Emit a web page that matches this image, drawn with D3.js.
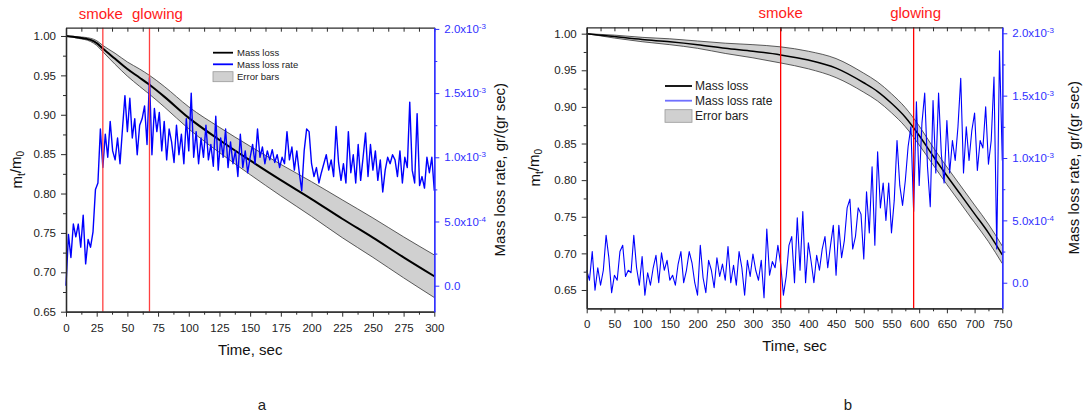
<!DOCTYPE html>
<html>
<head>
<meta charset="utf-8">
<script src="https://cdn.jsdelivr.net/npm/d3@7"></script>
<style>
  body { margin: 0; background: #fff; }
  svg { font-family: "Liberation Sans", Arial, sans-serif; }
</style>
</head>
<body>
<div id="chart"></div>
<script>
//////////////// Data ////////////////

// panel a: normalised mass m_t/m_0 with error (+/-)
const timeA = [0, 10, 20, 25, 30, 40, 50, 60, 68, 80, 100, 125, 150, 175, 200, 225, 250, 275, 300];
const massA = [1.000, 0.998, 0.995, 0.991, 0.984, 0.971, 0.958, 0.947, 0.938, 0.923, 0.896, 0.868, 0.842, 0.817, 0.793, 0.768, 0.744, 0.719, 0.695];
const errA = [0, 0.001, 0.002, 0.003, 0.004, 0.007, 0.009, 0.011, 0.012, 0.013, 0.014, 0.016, 0.018, 0.020, 0.022, 0.024, 0.025, 0.026, 0.027];

// panel a: mass loss rate (x10^-3 gr/(gr sec)), one reading every 2 sec
const rateStepA = 2;
const rateA = [
  0.00, 0.40, 0.22, 0.48, 0.38, 0.48, 0.30, 0.55, 0.17, 0.36, 0.30, 0.42, 0.75, 0.80, 1.22, 0.92,
  1.18, 1.00, 1.28, 1.05, 0.98, 1.15, 0.95, 1.22, 1.48, 1.20, 1.46, 1.15, 1.30, 1.02, 1.25, 1.30,
  1.40, 1.10, 1.62, 1.02, 1.38, 1.20, 1.35, 1.05, 1.28, 0.98, 1.22, 1.12, 0.96, 1.25, 1.02, 1.18,
  0.95, 1.30, 1.05, 1.50, 1.00, 1.20, 0.95, 1.15, 1.00, 1.25, 0.98, 1.10, 0.93, 1.32, 0.90, 1.15,
  1.00, 1.22, 0.92, 1.12, 0.95, 1.05, 0.85, 1.18, 0.92, 1.05, 0.88, 1.00, 1.10, 0.95, 1.22, 1.00,
  1.08, 0.95, 1.05, 0.98, 1.06, 0.96, 1.02, 0.92, 1.00, 0.95, 1.20, 0.98, 1.08, 0.90, 1.05, 0.88,
  0.74, 1.05, 1.22, 1.20, 0.95, 0.85, 0.92, 0.80, 0.88, 0.95, 1.02, 0.90, 0.98, 0.85, 1.24, 0.96,
  0.82, 0.95, 0.80, 1.20, 0.88, 1.02, 0.80, 1.10, 0.82, 1.00, 1.19, 0.85, 1.10, 0.90, 1.05, 0.82,
  0.98, 0.73, 0.90, 1.00, 0.95, 1.02, 0.98, 0.85, 1.05, 0.80, 1.00, 0.92, 1.43, 0.90, 0.80, 1.34,
  0.78, 0.85, 0.76, 1.00, 0.88, 1.00, 0.74
];

// panel b: normalised mass m_t/m_0 with error (+/-)
const timeB = [0, 50, 100, 150, 200, 250, 300, 350, 400, 450, 500, 525, 550, 575, 600, 625, 650, 675, 700, 725, 750];
const massB = [1.000, 0.996, 0.992, 0.989, 0.985, 0.980, 0.976, 0.971, 0.964, 0.953, 0.933, 0.921, 0.905, 0.886, 0.861, 0.833, 0.806, 0.780, 0.754, 0.728, 0.698];
const errB = [0, 0.002, 0.003, 0.004, 0.005, 0.007, 0.009, 0.011, 0.012, 0.013, 0.013, 0.013, 0.013, 0.013, 0.013, 0.012, 0.012, 0.012, 0.012, 0.012, 0.012];

// panel b: mass loss rate (x10^-3 gr/(gr sec)), one reading every 5 sec
const rateStepB = 5;
const rateB = [
  0.10, 0.02, 0.25, -0.06, 0.12, -0.02, 0.10, 0.38, 0.20, -0.08, 0.06, 0.02, 0.25, 0.30, 0.05, 0.10,
  0.08, 0.38, 0.12, -0.02, 0.21, -0.10, 0.08, -0.02, 0.12, 0.22, 0.00, 0.24, 0.10, 0.18, 0.02, 0.06,
  -0.02, 0.15, 0.25, 0.00, 0.10, 0.25, 0.16, 0.00, -0.10, 0.30, 0.04, -0.08, 0.18, 0.10, -0.04, 0.20,
  0.05, 0.15, 0.02, 0.29, 0.00, 0.14, -0.02, 0.25, 0.12, -0.10, 0.18, 0.05, 0.23, 0.10, 0.02, 0.18,
  -0.12, 0.43, 0.06, 0.17, 0.12, 0.30, 0.15, -0.10, 0.05, 0.30, 0.37, 0.00, 0.52, 0.10, 0.57, 0.00,
  0.32, 0.17, 0.00, 0.22, 0.10, 0.27, 0.37, 0.12, 0.30, 0.46, 0.06, 0.46, 0.20, 0.34, 0.60, 0.67,
  0.27, 0.37, 0.60, 0.55, 0.19, 0.73, 0.40, 0.93, 0.30, 1.05, 0.60, 0.80, 0.50, 0.80, 0.40, 0.66,
  1.14, 0.78, 0.62, 0.82, 1.09, 1.25, 0.57, 1.45, 0.78, 1.28, 1.52, 0.93, 0.61, 1.46, 0.88, 1.52,
  1.03, 0.80, 1.30, 0.88, 1.14, 0.98, 1.25, 1.64, 0.88, 1.25, 0.98, 1.22, 1.36, 0.90, 1.14, 1.08,
  1.41, 0.95, 1.14, 1.65, 0.27, 1.86, 0.98
];

// events (sec)
const eventsA = [30, 68];
const eventsB = [350, 590];
const eventNames = ["smoke", "glowing"];

// tick labels
const massTicks = [0.65, 0.70, 0.75, 0.80, 0.85, 0.90, 0.95, 1.00];
const massMinor = [0.675, 0.725, 0.775, 0.825, 0.875, 0.925, 0.975];
const timeTicksA = [0, 25, 50, 75, 100, 125, 150, 175, 200, 225, 250, 275, 300];
const timeTicksB = [0, 50, 100, 150, 200, 250, 300, 350, 400, 450, 500, 550, 600, 650, 700, 750];
const rateTicks = [0, 0.5, 1.0, 1.5, 2.0];
const rateMinor = [0.25, 0.75, 1.25, 1.75];
const rateTickMant = ["0.0", "5.0", "1.0", "1.5", "2.0"];
const rateTickExp = [null, "-4", "-3", "-3", "-3"];
const legendNames = ["Mass loss", "Mass loss rate", "Error bars"];

//////////////// Layout ////////////////

const axisColor = "#2b2b2b";
const blueAxis = "#3030ff";

const svg = d3.select("#chart").append("svg").attr("width", 1084).attr("height", 418);

const panels = [
  {
    time: timeA, mass: massA, err: errA, rate: rateA, step: rateStepA, events: eventsA,
    timeTicks: timeTicksA, xMax: 300, xMinorStep: 12.5,
    left: 66, right: 434.3, top: 27.7, bottom: 311.7,
    yDomain: [0.65, 1.0105], rDomain: [-0.2025, 2.0093],
    eventDx: [-2, 8], eventY: 19,
    legend: { x0: 213, x1: 233, tx: 237, rows: [52.7, 64.3, 76.7], size: 9.5, rateColor: "#0000ff" },
    yTitleX: 17, rTitleX: 500, xTitleY: 355, letter: "a", letterX: 262,
    massWidth: 2, rateWidth: 1.4, redColor: "#ff4040"
  },
  {
    time: timeB, mass: massB, err: errB, rate: rateB, step: rateStepB, events: eventsB,
    timeTicks: timeTicksB, xMax: 750, xMinorStep: 25,
    left: 586.7, right: 1002.3, top: 27.3, bottom: 308.3,
    yDomain: [0.625, 1.0087], rDomain: [-0.205, 2.048],
    eventDx: [0, 2], eventY: 17.5,
    legend: { x0: 665, x1: 692, tx: 695, rows: [86, 100.7, 116], size: 12, rateColor: "#7070ff" },
    yTitleX: 535, rTitleX: 1074, xTitleY: 351, letter: "b", letterX: 848,
    massWidth: 1.5, rateWidth: 1.1, redColor: "#ff0000"
  }
];

panels.forEach(drawPanel);

function styleAxis(g, color) {
  g.select(".domain").attr("stroke", color).attr("stroke-width", 1.3);
  g.selectAll(".tick line").attr("stroke", color).attr("stroke-width", 1);
  g.selectAll(".tick text").attr("fill", color === blueAxis ? blueAxis : "#222").style("font-size", "11.5px");
}

function drawPanel(p) {
  const x = d3.scaleLinear().domain([0, p.xMax]).range([p.left, p.right]);
  const y = d3.scaleLinear().domain(p.yDomain).range([p.bottom, p.top]);
  const yr = d3.scaleLinear().domain(p.rDomain).range([p.bottom, p.top]);
  const g = svg.append("g");

  // error band
  const area = d3.area()
    .x((d, i) => x(p.time[i]))
    .y0((d, i) => y(p.mass[i] - p.err[i]))
    .y1((d, i) => y(p.mass[i] + p.err[i]))
    .curve(d3.curveMonotoneX);
  g.append("path").datum(p.mass).attr("d", area).attr("fill", "#d0d0d0");

  const edge = (sign) => d3.line()
    .x((d, i) => x(p.time[i]))
    .y((d, i) => y(p.mass[i] + sign * p.err[i]))
    .curve(d3.curveMonotoneX);
  [1, -1].forEach((s) => {
    g.append("path").datum(p.mass).attr("d", edge(s))
      .attr("fill", "none").attr("stroke", "#333").attr("stroke-width", 0.8);
  });

  // mass loss line
  g.append("path").datum(p.mass)
    .attr("d", edge(0))
    .attr("fill", "none").attr("stroke", "#000").attr("stroke-width", p.massWidth);

  // mass loss rate line
  g.append("path").datum(p.rate)
    .attr("d", d3.line().x((d, i) => x(i * p.step)).y((d) => yr(d)))
    .attr("fill", "none").attr("stroke", "#0000ff").attr("stroke-width", p.rateWidth)
    .attr("stroke-linejoin", "round");

  // event lines + labels
  p.events.forEach((t, i) => {
    g.append("line")
      .attr("x1", x(t)).attr("x2", x(t))
      .attr("y1", p.top).attr("y2", p.bottom)
      .attr("stroke", p.redColor).attr("stroke-width", 1.3);
    g.append("text")
      .attr("x", x(t) + p.eventDx[i]).attr("y", p.eventY)
      .attr("text-anchor", "middle")
      .style("font-size", "15px").attr("fill", "#ff1a1a")
      .text(eventNames[i]);
  });

  // minor ticks lists
  const timeMinor = d3.range(0, p.xMax + 0.01, p.xMinorStep).filter((v) => !p.timeTicks.includes(v));

  // bottom axis
  const gb = g.append("g").attr("transform", `translate(0,${p.bottom})`)
    .call(d3.axisBottom(x).tickValues(p.timeTicks).tickSize(5).tickPadding(7).tickSizeOuter(0).tickFormat(d3.format("d")));
  styleAxis(gb, axisColor);
  const gbm = g.append("g").attr("transform", `translate(0,${p.bottom})`)
    .call(d3.axisBottom(x).tickValues(timeMinor).tickSize(3).tickSizeOuter(0).tickFormat(() => ""));
  styleAxis(gbm, axisColor);

  // top axis (ticks inward)
  const gt = g.append("g").attr("transform", `translate(0,${p.top})`)
    .call(d3.axisBottom(x).tickValues(p.timeTicks.concat(timeMinor)).tickSize(4).tickSizeOuter(0).tickFormat(() => ""));
  styleAxis(gt, axisColor);

  // left axis
  const gl = g.append("g").attr("transform", `translate(${p.left},0)`)
    .call(d3.axisLeft(y).tickValues(massTicks).tickSize(5).tickPadding(5).tickSizeOuter(0).tickFormat(d3.format(".2f")));
  styleAxis(gl, axisColor);
  const glm = g.append("g").attr("transform", `translate(${p.left},0)`)
    .call(d3.axisLeft(y).tickValues(massMinor).tickSize(3).tickSizeOuter(0).tickFormat(() => ""));
  styleAxis(glm, axisColor);

  // right axis (rate)
  const gr = g.append("g").attr("transform", `translate(${p.right},0)`)
    .call(d3.axisRight(yr).tickValues(rateTicks).tickSize(5).tickPadding(5).tickSizeOuter(0));
  styleAxis(gr, blueAxis);
  gr.selectAll(".tick text").each(function (d, i) {
    const t = d3.select(this).text(null);
    t.append("tspan").text(rateTickMant[i] + (rateTickExp[i] ? "x10" : ""));
    if (rateTickExp[i]) {
      t.append("tspan").attr("dy", "-0.5em").style("font-size", "8px").text(rateTickExp[i]);
    }
  });
  const grm = g.append("g").attr("transform", `translate(${p.right},0)`)
    .call(d3.axisRight(yr).tickValues(rateMinor).tickSize(3).tickSizeOuter(0).tickFormat(() => ""));
  styleAxis(grm, blueAxis);

  // axis titles
  const midY = (p.top + p.bottom) / 2;
  g.append("text")
    .attr("x", (p.left + p.right) / 2).attr("y", p.xTitleY)
    .attr("text-anchor", "middle").style("font-size", "15px").attr("fill", "#111")
    .text("Time, sec");

  const yt = g.append("text")
    .attr("transform", `translate(${p.yTitleX},${midY}) rotate(-90)`)
    .attr("text-anchor", "middle").attr("dy", "0.35em")
    .style("font-size", "15px").attr("fill", "#111");
  yt.append("tspan").text("m");
  yt.append("tspan").attr("dy", "0.3em").style("font-size", "10px").text("t");
  yt.append("tspan").attr("dy", "-0.3em").text("/m");
  yt.append("tspan").attr("dy", "0.3em").style("font-size", "10px").text("0");

  g.append("text")
    .attr("transform", `translate(${p.rTitleX},${midY}) rotate(-90)`)
    .attr("text-anchor", "middle").attr("dy", "0.35em")
    .style("font-size", "15px").attr("fill", "#111")
    .text("Mass loss rate, gr/(gr sec)");

  // legend
  const lg = p.legend;
  g.append("line").attr("x1", lg.x0).attr("x2", lg.x1).attr("y1", lg.rows[0]).attr("y2", lg.rows[0])
    .attr("stroke", "#000").attr("stroke-width", 1.8);
  g.append("line").attr("x1", lg.x0).attr("x2", lg.x1).attr("y1", lg.rows[1]).attr("y2", lg.rows[1])
    .attr("stroke", lg.rateColor).attr("stroke-width", 1.8);
  const rh = lg.size * 1.05;
  g.append("rect").attr("x", lg.x0).attr("y", lg.rows[2] - rh / 2)
    .attr("width", lg.x1 - lg.x0).attr("height", rh)
    .attr("fill", "#d0d0d0").attr("stroke", "#999").attr("stroke-width", 0.8);
  legendNames.forEach((name, i) => {
    g.append("text").attr("x", lg.tx).attr("y", lg.rows[i]).attr("dy", "0.35em")
      .style("font-size", lg.size + "px").attr("fill", "#222").text(name);
  });

  // panel letter
  g.append("text").attr("x", p.letterX).attr("y", 410)
    .attr("text-anchor", "middle").style("font-size", "15px").attr("fill", "#222")
    .text(p.letter);
}
</script>
</body>
</html>
